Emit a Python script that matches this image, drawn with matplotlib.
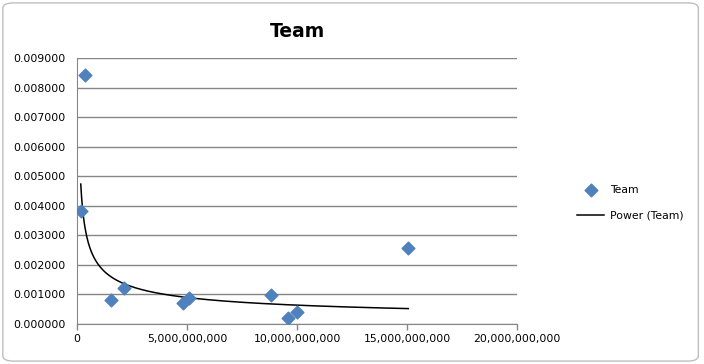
import numpy as np
import matplotlib.pyplot as plt
from matplotlib.patches import FancyBboxPatch
from matplotlib.ticker import FuncFormatter

# data
x = np.array([0.17e9, 0.36e9, 1.55e9, 2.14e9, 4.82e9, 5.09e9, 8.8e9, 9.6e9, 10.0e9, 15.06e9])
y = np.array([0.00382, 0.00842, 0.00081, 0.00122, 0.00072, 0.00088, 0.00097, 0.00020, 0.00040, 0.00256])

# power trendline, fit in log space like Excel does
b, loga = np.polyfit(np.log(x), np.log(y), 1)
xt = np.linspace(x.min(), x.max(), 400)
yt = np.exp(loga) * xt ** b

fig = plt.figure(figsize=(7.04, 3.64), dpi=100)
fig.patch.set_facecolor('white')
fig.patches.append(FancyBboxPatch((0.004, 0.008), 0.988, 0.984, boxstyle='round,pad=0,rounding_size=0.015',
                                  transform=fig.transFigure, fc='white', ec='#bfbfbf', lw=1, zorder=-5))

ax = fig.add_axes([0.1094, 0.1099, 0.625, 0.7308])
ax.patch.set_alpha(0)
ax.scatter(x, y, marker='D', s=42, color='#4f81bd', zorder=3, label='Team')
ax.plot(xt, yt, color='black', lw=1.1, zorder=2, label='Power (Team)')

ax.set_xlim(0, 20e9)
ax.set_ylim(0, 0.009)
ax.set_xticks(np.arange(0, 20e9 + 1, 5e9))
ax.set_yticks(np.arange(0, 0.0091, 0.001))
ax.xaxis.set_major_formatter(FuncFormatter(lambda v, p: f'{v:,.0f}'))
ax.yaxis.set_major_formatter(FuncFormatter(lambda v, p: f'{v:.6f}'))
ax.tick_params(labelsize=7.8, length=4, color='#868686', width=1)
ax.tick_params(axis='y', length=0, pad=8)
ax.grid(axis='y', color='#868686', lw=1)
ax.set_axisbelow(True)
for s in ['top', 'right']:
    ax.spines[s].set_visible(False)
for s in ['left', 'bottom']:
    ax.spines[s].set_color('#868686')

ax.set_title('Team', fontsize=13.5, fontweight='bold', pad=15)

ax.legend(loc='center left', bbox_to_anchor=(1.115, 0.455), frameon=False, fontsize=7.8,
          handlelength=2.5, handletextpad=0.5, labelspacing=1.45)

fig.savefig('out.png', dpi=100)
